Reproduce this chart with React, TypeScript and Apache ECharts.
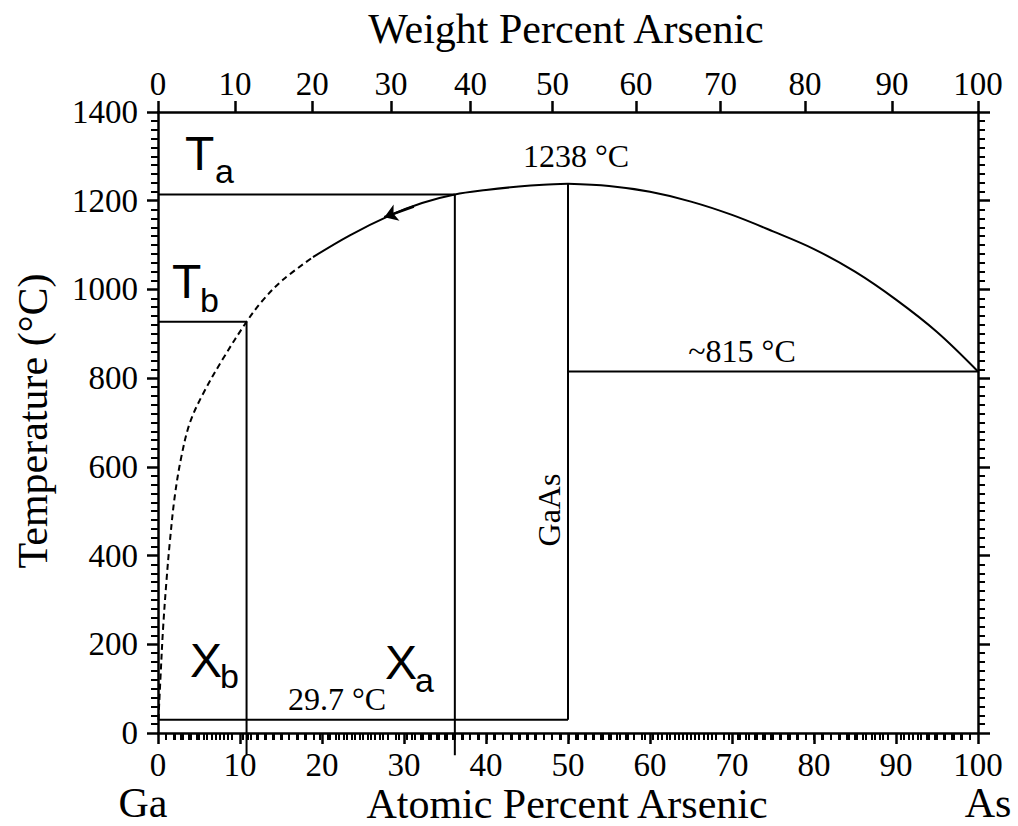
import React, { useEffect, useRef } from "react";
import * as echarts from "echarts";

// ---- axes ----
const TEMP_MIN = 0;
const TEMP_MAX = 1400;
const TEMP_STEP = 200;
const AT_MIN = 0;
const AT_MAX = 100;
const AT_STEP = 10;
const WEIGHT_LABELS = [0, 10, 20, 30, 40, 50, 60, 70, 80, 90, 100];
// position of each weight-percent tick, in atomic percent
const WEIGHT_AT_POS = [0, 9.4, 18.8, 28.4, 38.1, 48.1, 58.3, 68.6, 78.9, 89.5, 100];

// ---- curves [atomic % As, temperature °C] ----
const LIQ_GA_DASHED = [
  [0.05, 30], [0.29, 120], [0.61, 233], [1.02, 340], [1.43, 428], [2.04, 533],
  [2.85, 623], [3.9, 700], [5.5, 765], [7.9, 843], [10.8, 927], [12.8, 976],
  [15.2, 1021], [18.9, 1073],
];
const LIQ_GA_SOLID = [
  [18.9, 1073], [23.4, 1122], [28.3, 1167], [32.2, 1195], [36.2, 1214],
  [40, 1224], [44, 1232], [47, 1236], [50, 1238],
];
const LIQ_AS = [
  [50, 1238], [55, 1233], [60, 1220], [65, 1198], [70, 1168], [75, 1131],
  [80, 1091], [85, 1040], [90, 977], [95, 904], [100, 815],
];
const ARROW = [[31.2, 1187], [27.6, 1163]];

// ---- construction lines ----
const T_A = 1214;
const X_A = 36.2;
const T_B = 927;
const X_B = 10.8;
const T_MELT = 1238;
const X_GAAS = 50;
const T_EUT_GA = 29.7;
const T_EUT_AS = 815;
const LINE_BELOW = -50;

const SERIF = "'Liberation Serif', 'Times New Roman', serif";
const SANS = "'Liberation Sans', Arial, sans-serif";

function minorPositions(major: number[]): number[] {
  const out: number[] = [];
  for (let i = 0; i < major.length - 1; i++) {
    const a = major[i];
    const b = major[i + 1];
    for (let k = 1; k < 10; k++) out.push(a + ((b - a) * k) / 10);
  }
  return out;
}

export default function App() {
  const ref = useRef<HTMLDivElement>(null);

  useEffect(() => {
    if (!ref.current) return;
    const chart = echarts.init(ref.current, null, { renderer: "svg" });

    const axisLine = { show: true, onZero: false, lineStyle: { color: "#000", width: 2.5 } };
    const lbl = { fontFamily: SERIF, fontSize: 33, lineHeight: 33, color: "#000" };
    const plain = (v: number) => String(v);
    const minorStyle = { color: "#000", width: 2, opacity: 1 };

    const seg = (data: number[][], extra: any = {}) => ({
      type: "line",
      data,
      symbol: "none",
      silent: true,
      clip: false,
      xAxisIndex: 0,
      yAxisIndex: 0,
      lineStyle: { color: "#000", width: 2 },
      ...extra,
    });

    const txt = (text: string, x: number, y: number, size: number, font: string, extra: any = {}) => ({
      type: "text",
      x,
      y,
      silent: true,
      ...extra,
      style: {
        text,
        font: `${size}px ${font}`,
        fill: "#000",
        align: extra.align || "left",
        verticalAlign: "middle",
      },
    });

    const option: any = {
      animation: false,
      backgroundColor: "#fff",
      grid: [
        { left: 158, top: 112, width: 820, height: 621 },
        { left: 158, top: 112, width: 820, height: 621 },
      ],
      xAxis: [
        {
          type: "value", gridIndex: 0, position: "bottom", min: AT_MIN, max: AT_MAX, interval: AT_STEP,
          axisLine,
          axisTick: { show: true, length: 11, lineStyle: { color: "#000", width: 2.5 } },
          minorTick: { show: true, splitNumber: 10, length: 7, lineStyle: minorStyle },
          axisLabel: { ...lbl, margin: 15, formatter: plain },
          splitLine: { show: false },
          minorSplitLine: { show: false },
        },
        {
          type: "value", gridIndex: 0, position: "top", min: AT_MIN, max: AT_MAX,
          axisLine,
          axisTick: { show: true, length: 11, customValues: WEIGHT_AT_POS, lineStyle: { color: "#000", width: 2.5 } },
          axisLabel: {
            ...lbl,
            margin: 12,
            customValues: WEIGHT_AT_POS,
            formatter: (v: number) => {
              const i = WEIGHT_AT_POS.findIndex((p) => Math.abs(p - v) < 1e-6);
              return i >= 0 ? String(WEIGHT_LABELS[i]) : "";
            },
          },
          splitLine: { show: false },
        },
        {
          type: "value", gridIndex: 1, position: "top", min: AT_MIN, max: AT_MAX,
          axisLine: { show: false },
          axisTick: { show: true, inside: true, length: 7, customValues: minorPositions(WEIGHT_AT_POS), lineStyle: minorStyle },
          axisLabel: { show: false },
          splitLine: { show: false },
        },
      ],
      yAxis: [
        {
          type: "value", gridIndex: 0, position: "left", min: TEMP_MIN, max: TEMP_MAX, interval: TEMP_STEP,
          axisLine,
          axisTick: { show: true, length: 11, lineStyle: { color: "#000", width: 2.5 } },
          minorTick: { show: true, splitNumber: 10, length: 7, lineStyle: minorStyle },
          axisLabel: { ...lbl, margin: 20, formatter: plain },
          splitLine: { show: false },
          minorSplitLine: { show: false },
        },
        {
          type: "value", gridIndex: 0, position: "right", min: TEMP_MIN, max: TEMP_MAX, interval: TEMP_STEP,
          axisLine,
          axisTick: { show: true, length: 12, lineStyle: { color: "#000", width: 2.5 } },
          minorTick: { show: true, splitNumber: 10, length: 7, lineStyle: minorStyle },
          axisLabel: { show: false },
          splitLine: { show: false },
          minorSplitLine: { show: false },
        },
        {
          type: "value", gridIndex: 1, min: TEMP_MIN, max: TEMP_MAX, show: false,
        },
      ],
      series: [
        seg(LIQ_GA_DASHED, { smooth: 0.35, lineStyle: { color: "#000", width: 2, type: [6, 4] } }),
        seg(LIQ_GA_SOLID, { smooth: 0.35 }),
        seg(LIQ_AS, { smooth: 0.35 }),
        seg([[AT_MIN, T_A], [X_A, T_A]]),
        seg([[X_A, T_A], [X_A, LINE_BELOW]]),
        seg([[AT_MIN, T_B], [X_B, T_B]]),
        seg([[X_B, T_B], [X_B, LINE_BELOW]]),
        seg([[X_GAAS, T_MELT], [X_GAAS, T_EUT_GA]]),
        seg([[AT_MIN, T_EUT_GA], [X_GAAS, T_EUT_GA]]),
        seg([[X_GAAS, T_EUT_AS], [AT_MAX, T_EUT_AS]]),
        {
          type: "lines",
          coordinateSystem: "cartesian2d",
          xAxisIndex: 0,
          yAxisIndex: 0,
          silent: true,
          symbol: ["none", "arrow"],
          symbolSize: 13,
          lineStyle: { color: "#000", width: 2.5, opacity: 1 },
          data: [{ coords: ARROW }],
        },
      ],
      graphic: [
        txt("Weight Percent Arsenic", 566, 29, 42, SERIF, { align: "center" }),
        txt("Atomic Percent Arsenic", 567, 804, 42, SERIF, { align: "center" }),
        txt("Temperature (°C)", 33, 421, 42, SERIF, { align: "center", rotation: Math.PI / 2 }),
        txt("Ga", 143, 803, 42, SERIF, { align: "center" }),
        txt("As", 988, 803, 42, SERIF, { align: "center" }),
        txt("1238 °C", 576, 156, 32, SERIF, { align: "center" }),
        txt("~815 °C", 742, 351, 32, SERIF, { align: "center" }),
        txt("29.7 °C", 337, 699, 32, SERIF, { align: "center" }),
        txt("GaAs", 549, 510, 32, SERIF, { align: "center", rotation: Math.PI / 2 }),
        txt("T", 185, 153, 48, SANS),
        txt("a", 215, 171, 34, SANS),
        txt("T", 172, 281, 48, SANS),
        txt("b", 200, 300, 34, SANS),
        txt("X", 190, 660, 48, SANS),
        txt("b", 220, 676, 34, SANS),
        txt("X", 385, 662, 48, SANS),
        txt("a", 415, 680, 34, SANS),
      ],
    };

    chart.setOption(option);
    return () => chart.dispose();
  }, []);

  return (
    <div
      ref={ref}
      style={{ position: "absolute", left: 0, top: 0, width: 1018, height: 826, background: "#fff" }}
    />
  );
}
